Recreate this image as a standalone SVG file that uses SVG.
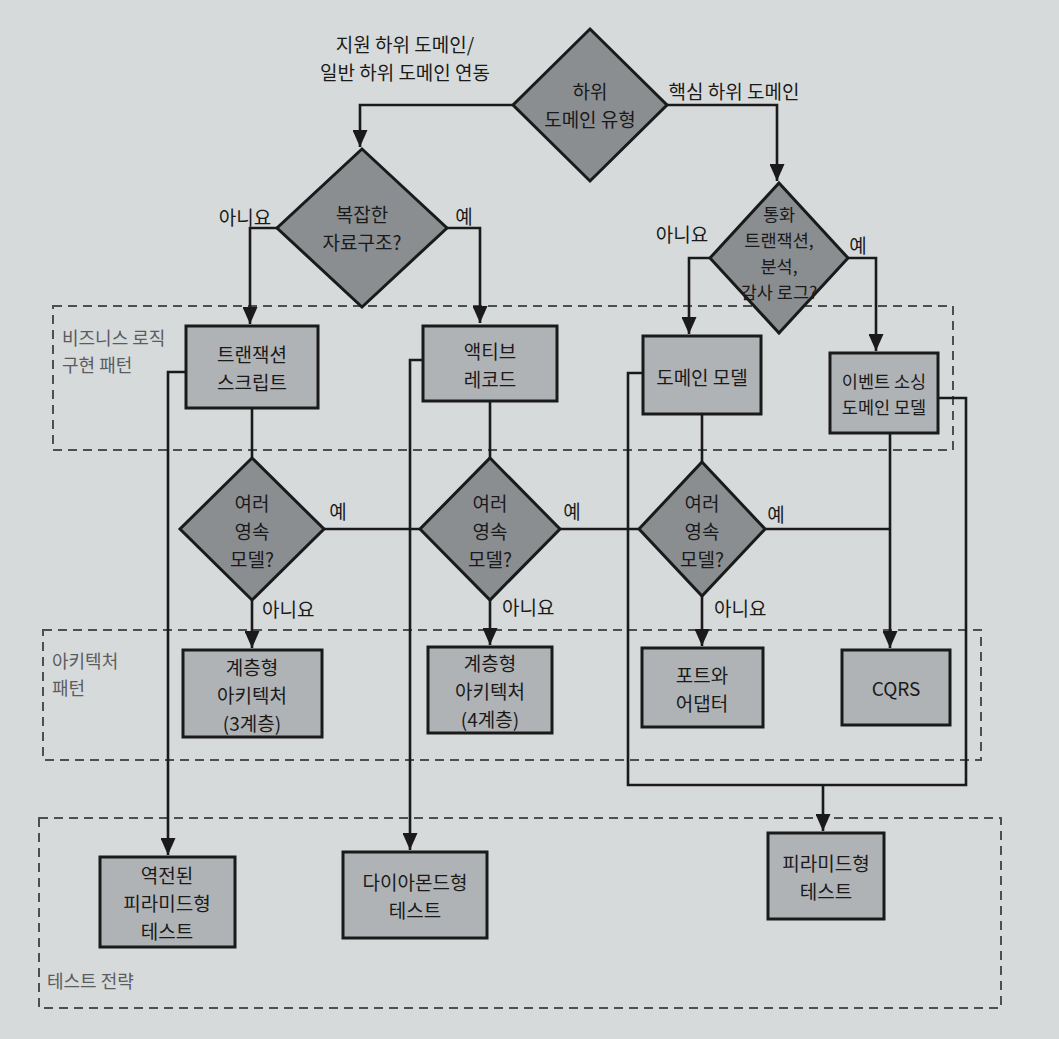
<svg xmlns="http://www.w3.org/2000/svg" width="1059" height="1039" viewBox="0 0 1059 1039">
<defs>
<marker id="arr" markerUnits="userSpaceOnUse" markerWidth="17" markerHeight="15" refX="17" refY="7.5" orient="auto">
<path d="M0,0 L17,7.5 L0,15 z" fill="#1a1a1a"/>
</marker>
</defs>
<style>
text{font-family:"Noto Sans CJK KR","Noto Sans",sans-serif;fill:#1a1a1a;}
.t{font-size:19px;text-anchor:middle;dominant-baseline:central;}
.ts{font-size:17.5px;text-anchor:middle;dominant-baseline:central;}
.lbl{font-size:19px;}
.reg{font-size:18px;fill:#5a5d60;}
.box{fill:#b0b3b5;stroke:#1a1a1a;stroke-width:3;}
.dia{fill:#8b8e91;stroke:#1a1a1a;stroke-width:3;stroke-linejoin:miter;}
.zone{fill:none;stroke:#4d4f52;stroke-width:2;stroke-dasharray:9 6;}
.c{fill:none;stroke:#1a1a1a;stroke-width:2.6;}
.ca{fill:none;stroke:#1a1a1a;stroke-width:2.6;marker-end:url(#arr);}
</style>
<rect x="0" y="0" width="1059" height="1039" fill="#d7dadb"/>

<g id="zones">
<rect class="zone" x="53" y="306" width="900" height="144"/>
<text class="reg" x="62" y="345">비즈니스 로직</text>
<text class="reg" x="62" y="372">구현 패턴</text>
<rect class="zone" x="43" y="630" width="938" height="130"/>
<text class="reg" x="52" y="668">아키텍처</text>
<text class="reg" x="52" y="695">패턴</text>
<rect class="zone" x="39" y="818" width="962" height="190"/>
<text class="reg" x="47" y="988">테스트 전략</text>
</g>

<g id="connectors">
<path class="ca" d="M513,105 H360 V147"/>
<path class="ca" d="M667,105 H777 V181"/>
<path class="ca" d="M277,228 H250 V324"/>
<path class="ca" d="M447,228 H480 V323"/>
<path class="ca" d="M710,258 H689 V334"/>
<path class="ca" d="M848,258 H876 V351"/>
<path class="c" d="M252,408 V458"/>
<path class="c" d="M490,401 V458"/>
<path class="c" d="M702,414 V462"/>
<path class="c" d="M324,529 H420"/>
<path class="c" d="M560,529 H639"/>
<path class="c" d="M765,529 H890"/>
<path class="ca" d="M890,433 V648"/>
<path class="ca" d="M252,600 V648"/>
<path class="ca" d="M490,600 V645"/>
<path class="ca" d="M702,596 V646"/>
<path class="ca" d="M186,372 H168 V855"/>
<path class="ca" d="M423,360 H410 V850"/>
<path class="c" d="M643,373 H628 V785 H966 V398 H938"/>
<path class="ca" d="M823,785 V831"/>
</g>

<g id="edge-labels">
<text class="lbl" x="405" y="52" text-anchor="middle">지원 하위 도메인/</text>
<text class="lbl" x="405" y="80" text-anchor="middle">일반 하위 도메인 연동</text>
<text class="lbl" x="734" y="99" text-anchor="middle">핵심 하위 도메인</text>
<text class="lbl" x="245" y="225" text-anchor="middle">아니요</text>
<text class="lbl" x="464" y="224" text-anchor="middle">예</text>
<text class="lbl" x="682" y="242" text-anchor="middle">아니요</text>
<text class="lbl" x="858" y="253" text-anchor="middle">예</text>
<text class="lbl" x="338" y="519" text-anchor="middle">예</text>
<text class="lbl" x="572" y="519" text-anchor="middle">예</text>
<text class="lbl" x="776" y="522" text-anchor="middle">예</text>
<text class="lbl" x="262" y="617">아니요</text>
<text class="lbl" x="502" y="615">아니요</text>
<text class="lbl" x="714" y="616">아니요</text>
</g>

<g id="subdomain-type">
<polygon class="dia" points="590,29 667,105 590,181 513,105"/>
<text class="t" x="590" y="90">하위</text>
<text class="t" x="590" y="118">도메인 유형</text>
</g>

<g id="complex-data">
<polygon class="dia" points="362,149 447,228 362,307 277,228"/>
<text class="t" x="362" y="213">복잡한</text>
<text class="t" x="362" y="241">자료구조?</text>
</g>

<g id="money-tx">
<polygon class="dia" points="779,183 848,258 779,333 710,258"/>
<text class="ts" x="779" y="213">통화</text>
<text class="ts" x="779" y="239">트랜잭션,</text>
<text class="ts" x="779" y="265">분석,</text>
<text class="ts" x="779" y="291">감사 로그?</text>
</g>

<g id="transaction-script">
<rect class="box" x="186" y="326" width="132" height="82"/>
<text class="t" x="252" y="353">트랜잭션</text>
<text class="t" x="252" y="381">스크립트</text>
</g>

<g id="active-record">
<rect class="box" x="423" y="326" width="134" height="75"/>
<text class="t" x="490" y="350">액티브</text>
<text class="t" x="490" y="378">레코드</text>
</g>

<g id="domain-model">
<rect class="box" x="643" y="336" width="118" height="78"/>
<text class="t" x="702" y="376">도메인 모델</text>
</g>

<g id="event-sourcing">
<rect class="box" x="830" y="353" width="108" height="80"/>
<text class="ts" x="884" y="380">이벤트 소싱</text>
<text class="ts" x="884" y="406">도메인 모델</text>
</g>

<g id="multi-model-1">
<polygon class="dia" points="252,458 324,529 252,600 180,529"/>
<text class="t" x="252" y="502">여러</text>
<text class="t" x="252" y="530">영속</text>
<text class="t" x="252" y="558">모델?</text>
</g>

<g id="multi-model-2">
<polygon class="dia" points="490,458 560,529 490,600 420,529"/>
<text class="t" x="490" y="502">여러</text>
<text class="t" x="490" y="530">영속</text>
<text class="t" x="490" y="558">모델?</text>
</g>

<g id="multi-model-3">
<polygon class="dia" points="702,462 765,529 702,596 639,529"/>
<text class="t" x="702" y="502">여러</text>
<text class="t" x="702" y="530">영속</text>
<text class="t" x="702" y="558">모델?</text>
</g>

<g id="layered-3">
<rect class="box" x="183" y="650" width="139" height="87"/>
<text class="t" x="252" y="666">계층형</text>
<text class="t" x="252" y="694">아키텍처</text>
<text class="t" x="252" y="722">(3계층)</text>
</g>

<g id="layered-4">
<rect class="box" x="428" y="647" width="124" height="86"/>
<text class="t" x="490" y="662">계층형</text>
<text class="t" x="490" y="690">아키텍처</text>
<text class="t" x="490" y="718">(4계층)</text>
</g>

<g id="ports-adapters">
<rect class="box" x="642" y="648" width="121" height="79"/>
<text class="t" x="702" y="674">포트와</text>
<text class="t" x="702" y="702">어댑터</text>
</g>

<g id="cqrs">
<rect class="box" x="842" y="650" width="108" height="75"/>
<text class="t" x="896" y="687">CQRS</text>
</g>

<g id="inverted-pyramid">
<rect class="box" x="100" y="857" width="135" height="90"/>
<text class="t" x="167" y="874">역전된</text>
<text class="t" x="167" y="902">피라미드형</text>
<text class="t" x="167" y="930">테스트</text>
</g>

<g id="diamond-test">
<rect class="box" x="343" y="852" width="144" height="86"/>
<text class="t" x="415" y="881">다이아몬드형</text>
<text class="t" x="415" y="909">테스트</text>
</g>

<g id="pyramid-test">
<rect class="box" x="768" y="833" width="116" height="86"/>
<text class="t" x="826" y="862">피라미드형</text>
<text class="t" x="826" y="890">테스트</text>
</g>
</svg>
